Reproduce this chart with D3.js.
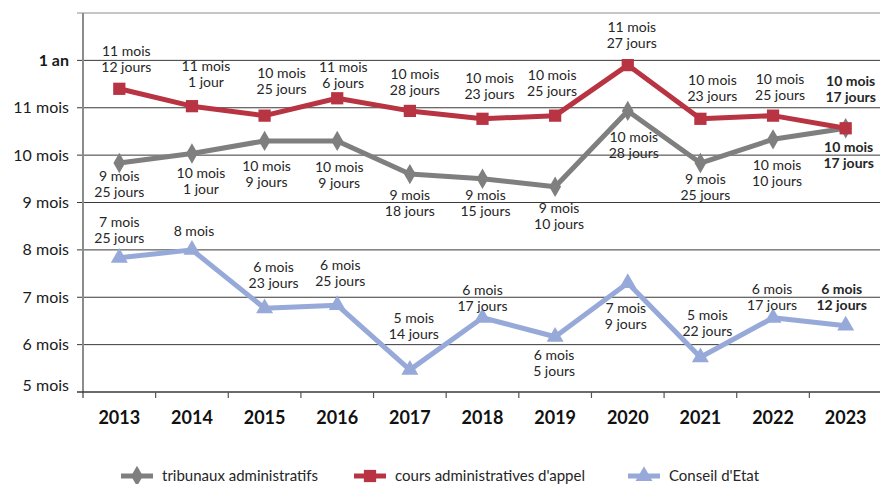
<!DOCTYPE html>
<html lang="fr">
<head>
<meta charset="utf-8">
<script src="https://d3js.org/d3.v7.min.js"></script>
<style>
  body { margin: 0; background: #fff; }
  svg { font-family: Lato, "Noto Sans", sans-serif; }
</style>
</head>
<body>
<svg id="chart" width="880" height="484"></svg>
<script>
// data
const years = [2013, 2014, 2015, 2016, 2017, 2018, 2019, 2020, 2021, 2022, 2023];

const taMonths  = [9, 10, 10, 10, 9, 9, 9, 10, 9, 10, 10];
const taDays    = [25, 1, 9, 9, 18, 15, 10, 28, 25, 10, 17];
const caaMonths = [11, 11, 10, 11, 10, 10, 10, 11, 10, 10, 10];
const caaDays   = [12, 1, 25, 6, 28, 23, 25, 27, 23, 25, 17];
const ceMonths  = [7, 8, 6, 6, 5, 6, 6, 7, 5, 6, 6];
const ceDays    = [25, 0, 23, 25, 14, 17, 5, 9, 22, 17, 12];

const yTicks = [5, 6, 7, 8, 9, 10, 11, 12];
const yTickLabels = ["5 mois", "6 mois", "7 mois", "8 mois", "9 mois", "10 mois", "11 mois", "1 an"];

const seriesNames = ["tribunaux administratifs", "cours administratives d'appel", "Conseil d'Etat"];

// label placement (offset of label block centre from the point, px)
const taLabelDx  = [0, 9, 2, 2, 0, 3, 4, 6, 5, 4, 3];
const taLabelDy  = [21, 28, 33, 34, 29, 24, 29, 34, 24, 34, 27];
const caaLabelDx = [7, 14, 17, 6, 5, 7, -3, 4, 12, 7, 5];
const caaLabelDy = [-30, -32, -35, -23, -29, -33, -33, -30, -31, -29, -39];
const ceLabelDx  = [0, 2, 9, 3, 4, 0, -1, -2, 7, -1, -4];
const ceLabelDy  = [-28, -19, -33, -32, -44, -20, 26, 33, -34, -21, -29];

const series = [
  {name: seriesNames[0], months: taMonths, days: taDays, color: "#7f7f7f", marker: "diamond", dx: taLabelDx, dy: taLabelDy},
  {name: seriesNames[1], months: caaMonths, days: caaDays, color: "#b93442", marker: "square", dx: caaLabelDx, dy: caaLabelDy},
  {name: seriesNames[2], months: ceMonths, days: ceDays, color: "#97a9d9", marker: "triangle", dx: ceLabelDx, dy: ceLabelDy}
];

const svg = d3.select("#chart");
const plotLeft = 83, plotRight = 882, plotTop = 13, plotBottom = 392;

const x = d3.scaleBand().domain(years).range([plotLeft, plotRight]).padding(0);
const y = d3.scaleLinear().domain([5, 13]).range([plotBottom, plotTop]);
const cx = d => x(d) + x.bandwidth() / 2;

// gridlines
svg.append("g")
  .selectAll("line")
  .data(d3.range(6, 14))
  .join("line")
    .attr("x1", plotLeft - 6).attr("x2", 880)
    .attr("y1", d => y(d)).attr("y2", d => y(d))
    .attr("stroke", d => d === 13 ? "#8c8c8c" : "#3a3a3a")
    .attr("stroke-width", 1);

// y labels
svg.append("g")
  .selectAll("text")
  .data(yTicks)
  .join("text")
    .attr("x", 69)
    .attr("y", d => y(d) + (d === 5 ? -7 : 0))
    .attr("dy", "0.35em")
    .attr("text-anchor", "end")
    .attr("font-size", 16)
    .attr("font-weight", (d, i) => yTickLabels[i] === "1 an" ? "bold" : "normal")
    .attr("fill", "#1a1a1a")
    .text((d, i) => yTickLabels[i]);

// y axis line
svg.append("line")
  .attr("x1", plotLeft).attr("x2", plotLeft)
  .attr("y1", plotTop).attr("y2", plotBottom + 6)
  .attr("stroke", "#8c8c8c").attr("stroke-width", 2);

// x axis
const xAxis = svg.append("g");
xAxis.append("line")
  .attr("x1", plotLeft - 6).attr("x2", 880)
  .attr("y1", plotBottom).attr("y2", plotBottom)
  .attr("stroke", "#3a3a3a").attr("stroke-width", 1.5);
xAxis.selectAll("line.tick")
  .data(years.slice(1))
  .join("line")
    .attr("class", "tick")
    .attr("x1", d => x(d)).attr("x2", d => x(d))
    .attr("y1", plotBottom).attr("y2", plotBottom + 6)
    .attr("stroke", "#555").attr("stroke-width", 1.2);
xAxis.selectAll("text")
  .data(years)
  .join("text")
    .attr("x", d => cx(d))
    .attr("y", 418)
    .attr("dy", "0.35em")
    .attr("text-anchor", "middle")
    .attr("font-size", 18)
    .attr("font-weight", "bold")
    .attr("fill", "#111")
    .text(d => d);

const symbols = {
  diamond: d3.symbol().type(d3.symbolDiamond).size(120),
  square: d3.symbol().type(d3.symbolSquare).size(150),
  triangle: d3.symbol().type(d3.symbolTriangle).size(125)
};

const line = d3.line().x(d => cx(d.year)).y(d => y(d.value));

series.forEach(s => {
  const pts = years.map((yr, i) => ({year: yr, value: s.months[i] + s.days[i] / 30, i}));
  const g = svg.append("g");
  g.append("path")
    .datum(pts)
    .attr("fill", "none")
    .attr("stroke", s.color)
    .attr("stroke-width", 5)
    .attr("stroke-linejoin", "round")
    .attr("d", line);
  g.selectAll("path.mk")
    .data(pts)
    .join("path")
      .attr("class", "mk")
      .attr("transform", d => `translate(${cx(d.year)},${y(d.value)})`)
      .attr("d", symbols[s.marker])
      .attr("fill", s.color);
});

// data labels
series.forEach(s => {
  const g = svg.append("g");
  years.forEach((yr, i) => {
    const v = s.months[i] + s.days[i] / 30;
    const lines = [s.months[i] + " mois"];
    if (s.days[i] > 0) lines.push(s.days[i] + (s.days[i] === 1 ? " jour" : " jours"));
    const t = g.append("text")
      .attr("text-anchor", "middle")
      .attr("font-size", 14)
      .attr("font-weight", yr === 2023 ? "bold" : "normal")
      .attr("fill", "#262626");
    const y0 = y(v) + s.dy[i] - (lines.length - 1) * 8;
    lines.forEach((l, k) => {
      t.append("tspan")
        .attr("x", cx(yr) + s.dx[i])
        .attr("y", y0 + k * 16)
        .attr("dy", "0.35em")
        .text(l);
    });
  });
});

// legend
const legendX = [121, 354, 628];
const legend = svg.append("g");
series.forEach((s, i) => {
  const lg = legend.append("g").attr("transform", `translate(${legendX[i]},476)`);
  lg.append("line")
    .attr("x1", 0).attr("x2", 32).attr("y1", 0).attr("y2", 0)
    .attr("stroke", s.color).attr("stroke-width", 5);
  lg.append("path")
    .attr("transform", "translate(16,0)")
    .attr("d", symbols[s.marker])
    .attr("fill", s.color);
  lg.append("text")
    .attr("x", 41).attr("y", 0).attr("dy", "0.35em")
    .attr("font-size", 15)
    .attr("fill", "#262626")
    .text(s.name);
});
</script>
</body>
</html>
